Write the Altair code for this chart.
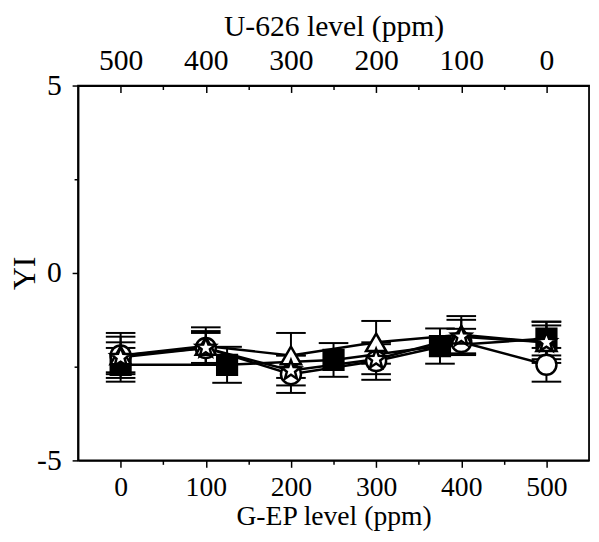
import altair as alt
import pandas as pd

# ---- data ----
gep_levels = [0, 100, 200, 300, 400, 500]
gep_levels_sq = [0, 125, 250, 375, 500]

square_yi = [-2.45, -2.45, -2.32, -1.95, -1.75]
square_err = [0.45, 0.48, 0.45, 0.47, 0.45]
circle_yi = [-2.2, -2.0, -2.7, -2.35, -1.84, -2.45]
circle_err = [0.6, 0.45, 0.5, 0.5, 0.35, 0.45]
triangle_yi = [-2.2, -1.95, -2.2, -1.85, -1.65, -1.85]
triangle_err = [0.5, 0.5, 0.6, 0.57, 0.5, 0.55]
star_yi = [-2.25, -2.0, -2.6, -2.3, -1.7, -1.85]
star_err = [0.4, 0.4, 0.4, 0.4, 0.45, 0.45]

x_tick_values = [0, 50, 100, 150, 200, 250, 300, 350, 400, 450, 500]
u626_tick_values = [0, 50, 100, 150, 200, 250, 300, 350, 400, 450, 500]
y_tick_values = [-5, -2.5, 0, 2.5, 5]

series_names = ["square", "circle", "triangle", "star"]

rows = []
for name, xs, ys, es in [
    ("square", gep_levels_sq, square_yi, square_err),
    ("circle", gep_levels, circle_yi, circle_err),
    ("triangle", gep_levels, triangle_yi, triangle_err),
    ("star", gep_levels, star_yi, star_err),
]:
    for x, y, e in zip(xs, ys, es):
        rows.append({"series": name, "x": x, "y": y, "lo": y - e, "hi": y + e})
df = pd.DataFrame(rows)

STAR = ("M0,-1L0.25,-0.34L0.951,-0.309L0.4,0.13L0.588,0.809L0,0.42"
        "L-0.588,0.809L-0.4,0.13L-0.951,-0.309L-0.25,-0.34Z")

FONT = "Liberation Serif"

X = alt.X(
    "x:Q",
    scale=alt.Scale(domain=[-50, 550], nice=False, zero=False),
    axis=alt.Axis(
        title="G-EP level (ppm)",
        values=x_tick_values,
        labelExpr="datum.value % 100 === 0 ? datum.label : ''",
        tickSize=alt.condition("datum.value % 100 === 0", alt.value(7), alt.value(4)),
        labelFontSize=28,
        titleFontSize=28,
        labelPadding=7,
        titlePadding=1,
        grid=False,
    ),
)


def Y(field):
    return alt.Y(
        field,
        type="quantitative",
        scale=alt.Scale(domain=[5, -5], reverse=True, nice=False, zero=False),
        axis=alt.Axis(
            title="YI",
            values=y_tick_values,
            labelExpr="datum.value % 5 === 0 ? toString(datum.value) : ''",
            tickSize=alt.condition("datum.value % 5 === 0", alt.value(6), alt.value(4)),
            labelPadding=11,
            titleX=-54,
            titleBaseline="middle",
            grid=False,
        ),
    )


base = alt.Chart(df)

lines = base.mark_line(color="black", strokeWidth=2.5).encode(
    x=X, y=Y("y"), detail="series:N", order="x:Q"
)
rules = base.mark_rule(color="black", strokeWidth=2).encode(
    x=X, y=Y("lo"), y2="hi:Q", detail="series:N"
)
caps = base.transform_fold(["lo", "hi"], as_=["end", "val"]).mark_tick(
    orient="horizontal", size=30, thickness=2, color="black", opacity=1
).encode(x=X, y=Y("val"))

points = base.mark_point(
    filled=True, stroke="black", strokeWidth=2.5, opacity=1, fillOpacity=1
).encode(
    x=X,
    y=Y("y"),
    shape=alt.Shape("series:N", scale=alt.Scale(domain=series_names,
                    range=["square", "circle", "triangle-up", STAR]), legend=None),
    fill=alt.Fill("series:N", scale=alt.Scale(domain=series_names,
                  range=["black", "white", "white", "white"]), legend=None),
    size=alt.Size("series:N", scale=alt.Scale(domain=series_names,
                  range=[400, 430, 680, 760]), legend=None),
)

main = alt.layer(lines, rules, caps, points)

top = base.transform_filter("datum.series === 'circle'").transform_calculate(
    u="500 - datum.x"
).mark_point(opacity=0).encode(
    x=alt.X(
        "u:Q",
        scale=alt.Scale(domain=[550, -50], nice=False, zero=False),
        axis=alt.Axis(
            orient="top",
            title="U-626 level (ppm)",
            values=u626_tick_values,
            labelExpr="datum.value % 100 === 0 ? datum.label : ''",
            ticks=False,
            grid=True,
            gridColor="black",
            gridOpacity=1,
            gridWidth=1.5,
            gridDash=alt.condition("datum.value % 100 === 0", alt.value([7, 2000]), alt.value([4, 2000])),
            labelPadding=10,
            titlePadding=5,
        ),
    ),
    y=Y("y"),
)

chart = alt.layer(main, top).resolve_scale(x="independent").properties(
    width=518,
    height=380,
    autosize=alt.AutoSizeParams(type="none"),
    padding={"left": 71, "top": 75, "right": 2, "bottom": 71},
).configure_view(
    stroke="black", strokeWidth=1.8
).configure_axis(
    labelFont=FONT, labelFontSize=30, labelColor="black",
    titleFont=FONT, titleFontSize=30, titleFontWeight="normal", titleColor="black",
    domainColor="black", domainWidth=1.8, tickColor="black", tickWidth=1.5,
    labelAngle=0,
).configure_axisY(titleAngle=-90, titleFontSize=32)

chart.save("out.html", embed_options={"renderer": "svg", "actions": False})
